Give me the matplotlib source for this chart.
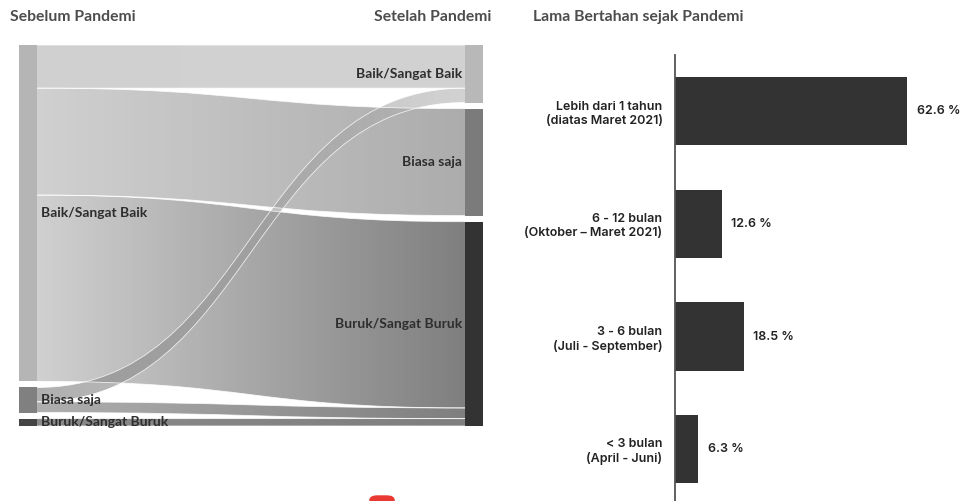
import numpy as np
import matplotlib
matplotlib.use('Agg')
import matplotlib.pyplot as plt
from matplotlib.path import Path
from matplotlib.patches import PathPatch, Rectangle, FancyBboxPatch
from matplotlib.colors import to_rgb

# data - sankey (share of respondents, %)
states = ['Baik/Sangat Baik', 'Biasa saja', 'Buruk/Sangat Buruk']
flow_src = [0, 0, 0, 1, 1, 2]
flow_dst = [0, 1, 2, 0, 2, 2]
flow_val = [11.7, 29.0, 50.5, 3.9, 2.9, 2.0]

# data - bars
durations = ['Lebih dari 1 tahun\n(diatas Maret 2021)',
             '6 - 12 bulan\n(Oktober \u2013 Maret 2021)',
             '3 - 6 bulan\n(Juli - September)',
             '< 3 bulan\n(April - Juni)']
shares = [62.6, 12.6, 18.5, 6.3]

left_colors = ['#b5b5b5', '#808080', '#444444']
right_colors = ['#b8b8b8', '#7b7b7b', '#333333']

W, H = 961, 501
def box(x0, y0, x1, y1):
    return [x0 / W, 1 - y1 / H, (x1 - x0) / W, (y1 - y0) / H]

fig = plt.figure(figsize=(W / 100, H / 100), dpi=100)
fig.patch.set_facecolor('white')

# headers
hdr = dict(fontsize=11.3, color='#4d4d4d', family='Lato', fontweight='bold', va='center')
fig.text(10 / W, 1 - 17 / H, 'Sebelum Pandemi', ha='left', **hdr)
fig.text(491 / W, 1 - 17 / H, 'Setelah Pandemi', ha='right', **hdr)
fig.text(533 / W, 1 - 17 / H, 'Lama Bertahan sejak Pandemi', ha='left', **hdr)

# ---------------- sankey ----------------
ax = fig.add_axes(box(19, 45, 483, 426))
gap = 1.65
node_w = 18 / 464
n = len(states)
left_tot = [sum(v for s, v in zip(flow_src, flow_val) if s == i) for i in range(n)]
right_tot = [sum(v for d, v in zip(flow_dst, flow_val) if d == i) for i in range(n)]

def node_tops(tots):
    tops, y = [], 0
    for t in tots:
        tops.append(y)
        y += t + gap
    return tops

left_top = node_tops(left_tot)
right_top = node_tops(right_tot)
total_h = sum(left_tot) + gap * (n - 1)

# offsets of flows at each node
lo = list(left_top)
ro = list(right_top)
left_pos = {}
for k in sorted(range(len(flow_val)), key=lambda k: (flow_src[k], flow_dst[k])):
    left_pos[k] = lo[flow_src[k]]
    lo[flow_src[k]] += flow_val[k]
right_pos = {}
for k in sorted(range(len(flow_val)), key=lambda k: (flow_dst[k], flow_src[k])):
    right_pos[k] = ro[flow_dst[k]]
    ro[flow_dst[k]] += flow_val[k]

xa, xb = node_w, 1 - node_w
xm = (xa + xb) / 2
for k in range(len(flow_val)):
    v = flow_val[k]
    ya0, yb0 = left_pos[k], right_pos[k]
    ya1, yb1 = ya0 + v, yb0 + v
    verts = [(xa, ya0), (xm, ya0), (xm, yb0), (xb, yb0),
             (xb, yb1), (xm, yb1), (xm, ya1), (xa, ya1), (xa, ya0)]
    codes = [Path.MOVETO, Path.CURVE4, Path.CURVE4, Path.CURVE4,
             Path.LINETO, Path.CURVE4, Path.CURVE4, Path.CURVE4, Path.CLOSEPOLY]
    patch = PathPatch(Path(verts, codes), facecolor='none', edgecolor='none')
    ax.add_patch(patch)
    c0 = np.array(to_rgb(left_colors[flow_src[k]]))
    c1 = np.array(to_rgb(right_colors[flow_dst[k]]))
    t = np.linspace(0, 1, 256)[:, None]
    img = np.ones((1, 256, 4))
    img[0, :, :3] = c0 * (1 - t) + c1 * t
    img[0, :, 3] = 0.63
    im = ax.imshow(img, extent=[xa, xb, total_h, 0], aspect='auto', zorder=1,
                   interpolation='bilinear')
    im.set_clip_path(patch)
    for y0, y1 in [(ya0, yb0), (ya1, yb1)]:
        edge = Path([(xa, y0), (xm, y0), (xm, y1), (xb, y1)],
                    [Path.MOVETO, Path.CURVE4, Path.CURVE4, Path.CURVE4])
        ax.add_patch(PathPatch(edge, fill=False, edgecolor='white', lw=0.6,
                               alpha=0.8, zorder=2))

lab = dict(fontsize=10, family='Lato', fontweight='bold', color='#2e2e2e', va='center', zorder=4)
for i in range(n):
    ax.add_patch(Rectangle((0, left_top[i]), node_w, left_tot[i], color=left_colors[i], lw=0, zorder=3))
    ax.add_patch(Rectangle((1 - node_w, right_top[i]), node_w, right_tot[i], color=right_colors[i], lw=0, zorder=3))
    ax.text(node_w + 0.009, left_top[i] + left_tot[i] / 2, states[i], ha='left', **lab)
    ax.text(1 - node_w - 0.006, right_top[i] + right_tot[i] / 2, states[i], ha='right', **lab)

ax.set_xlim(0, 1)
ax.set_ylim(total_h, 0)
ax.axis('off')

# ---------------- bars ----------------
ax2 = fig.add_axes(box(675, 55, 953, 501))
ypos = np.arange(len(shares))
ax2.barh(ypos, shares, height=0.605, color='#333333')
ax2.set_xlim(0, 75)
ax2.set_ylim(3.46, -0.5)
for s in ['top', 'right', 'bottom']:
    ax2.spines[s].set_visible(False)
ax2.spines['left'].set_color('#555555')
ax2.spines['left'].set_linewidth(1.3)
ax2.set_xticks([])
ax2.set_yticks(ypos)
ax2.set_yticklabels(durations, fontsize=9, family='Inter', fontweight='semibold',
                    color='#222222', multialignment='right', linespacing=1.2)
ax2.tick_params(axis='y', length=0, pad=9)
for y, v in zip(ypos, shares):
    ax2.annotate(f'{v} %', (v, y), xytext=(7, 0), textcoords='offset points',
                 va='center', ha='left', fontsize=9, family='Inter',
                 fontweight='semibold', color='#222222')

# small red element cut at the bottom edge
fig.patches.append(FancyBboxPatch((370 / W, -4 / H), 24 / W, 9 / H,
                                  boxstyle='round,pad=0,rounding_size=0.008',
                                  transform=fig.transFigure, color='#e83a30'))

fig.savefig('out.png', dpi=100)
